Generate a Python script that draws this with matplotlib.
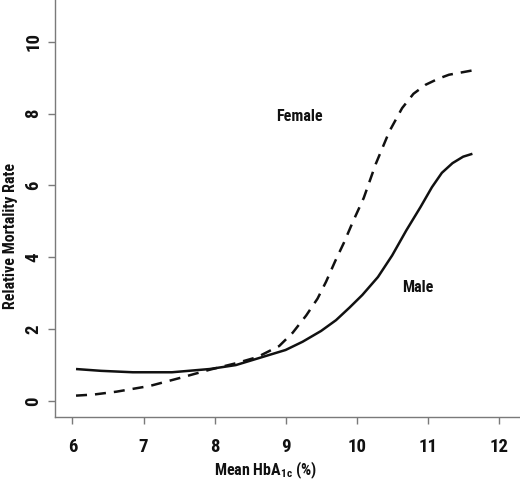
import matplotlib
matplotlib.use('Agg')
import matplotlib.pyplot as plt

# values
male_x = [6.05, 6.4, 6.85, 7.4, 7.93, 8.3, 8.6, 9.0, 9.24, 9.5, 9.71, 9.9,
          10.08, 10.3, 10.5, 10.7, 10.9, 11.06, 11.2, 11.35, 11.5, 11.63]
male_y = [0.89, 0.84, 0.80, 0.80, 0.89, 1.0, 1.18, 1.42, 1.65, 1.95, 2.25, 2.6,
          2.95, 3.45, 4.05, 4.75, 5.4, 5.95, 6.35, 6.62, 6.8, 6.88]

female_x = [6.05, 6.3, 6.62, 7.09, 7.51, 7.93, 8.3, 8.6, 8.91, 9.1, 9.29, 9.45,
            9.57, 9.7, 9.82, 9.95, 10.1, 10.27, 10.46, 10.64, 10.8, 10.97,
            11.15, 11.3, 11.63]
female_y = [0.15, 0.18, 0.26, 0.42, 0.64, 0.87, 1.05, 1.22, 1.53, 1.9, 2.38, 2.85,
            3.32, 3.9, 4.4, 5.0, 5.65, 6.6, 7.5, 8.15, 8.55, 8.80,
            8.97, 9.08, 9.2]

x_ticks = [6, 7, 8, 9, 10, 11, 12]
y_ticks = [0, 2, 4, 6, 8, 10]

plt.rcParams['font.family'] = ['Roboto Condensed', 'DejaVu Sans']
plt.rcParams['font.weight'] = 'bold'
plt.rcParams['axes.labelweight'] = 'bold'
plt.rcParams['mathtext.fontset'] = 'custom'
plt.rcParams['mathtext.rm'] = 'Roboto Condensed:bold'
plt.rcParams['mathtext.default'] = 'rm'

axis_col = '#7a7a7a'
ink = '#111111'

fig = plt.figure(figsize=(5.2, 4.82), dpi=100)
ax = fig.add_axes([55 / 520, 65 / 482, 465 / 520, 417 / 482])

ax.plot(male_x, male_y, color=ink, lw=1.8, solid_capstyle='butt')
ax.plot(female_x, female_y, color=ink, lw=1.8, dashes=(4.4, 3.2),
        dash_capstyle='butt')

ax.text(9.19, 7.92, 'Female', fontsize=11.5, ha='center', va='center', color=ink)
ax.text(10.86, 3.15, 'Male', fontsize=11.5, ha='center', va='center', color=ink)

ax.set_xlim(5.754, 12.30)
ax.set_ylim(-0.445, 11.16)
ax.set_xticks(x_ticks)
ax.set_yticks(y_ticks)

for side in ['top', 'right']:
    ax.spines[side].set_visible(False)
for side in ['left', 'bottom']:
    ax.spines[side].set_color(axis_col)
    ax.spines[side].set_linewidth(1.0)

ax.tick_params(axis='both', length=5, width=1.0, color=axis_col,
               labelsize=13.5, labelcolor=ink)
ax.tick_params(axis='x', pad=10)
ax.tick_params(axis='y', pad=4, labelrotation=90)
for lab in ax.get_yticklabels():
    lab.set_va('center')

ax.set_xlabel('Mean HbA$_{1c}$ (%)', fontsize=11.5, color=ink)
ax.set_ylabel('Relative Mortality Rate', fontsize=11.5, color=ink)
ax.xaxis.set_label_coords((266 - 55) / 465, -(460 - 417) / 417)
ax.yaxis.set_label_coords(-(55 - 18) / 465, (417 - 236) / 417)

fig.savefig('out.png', dpi=100)
